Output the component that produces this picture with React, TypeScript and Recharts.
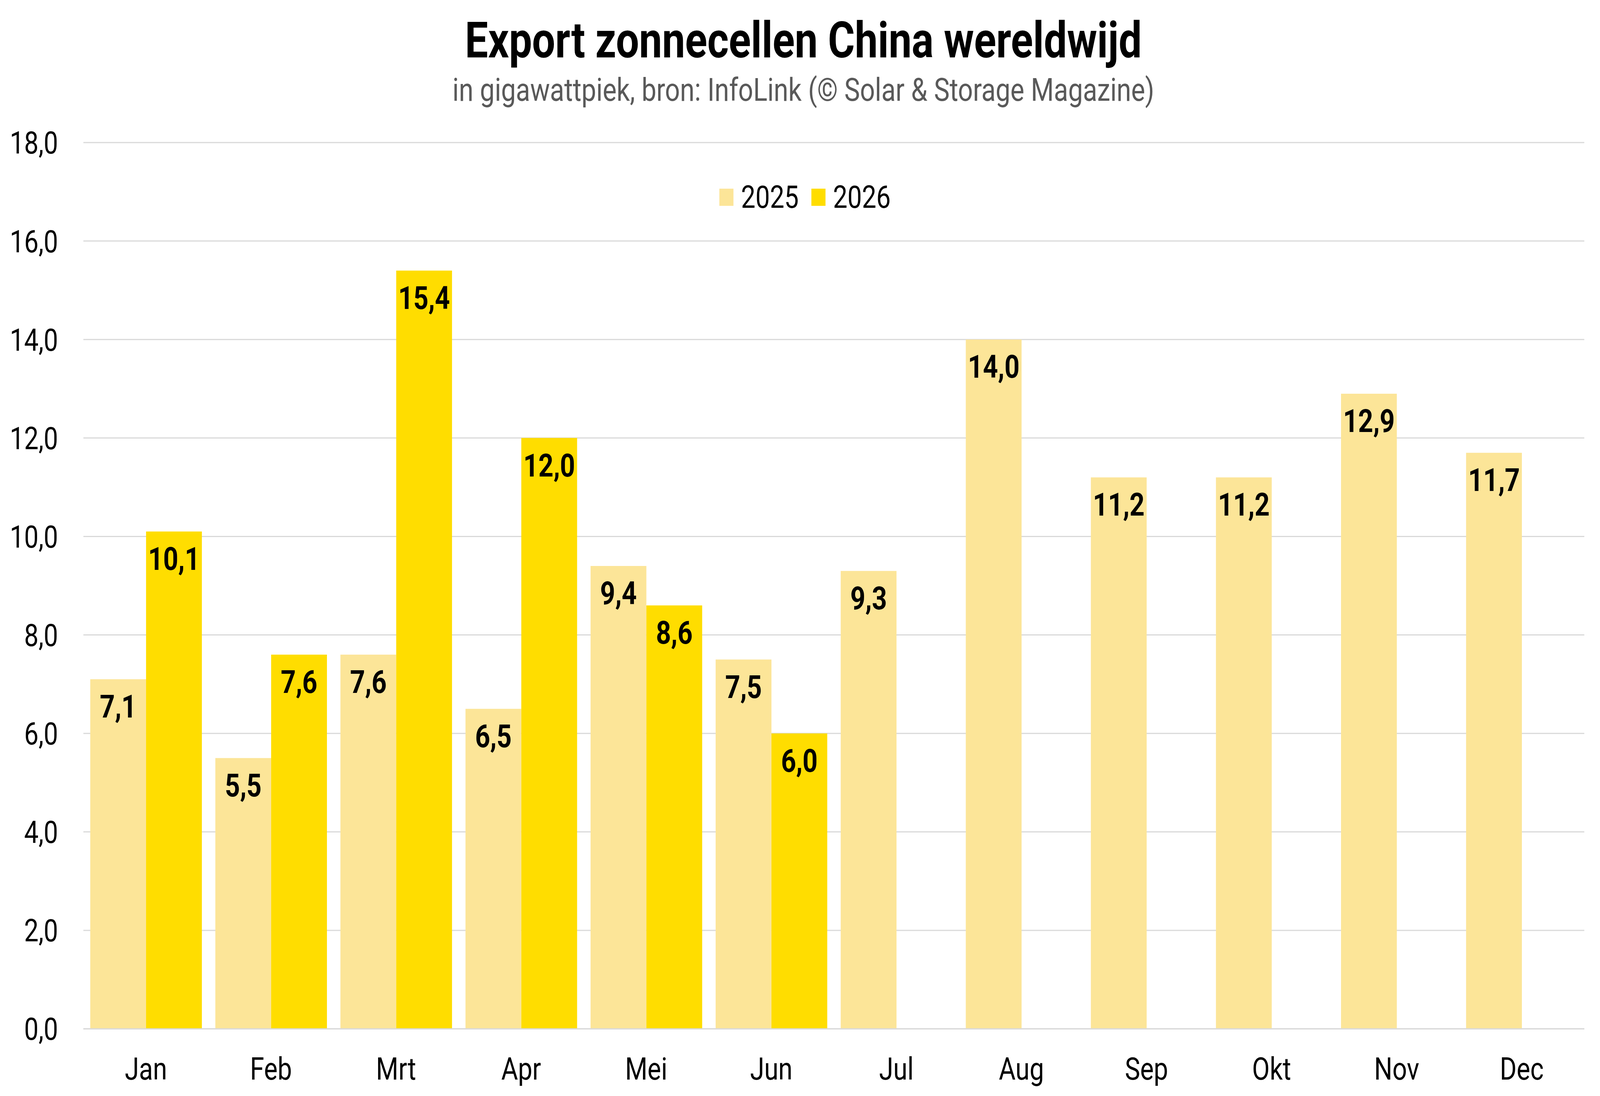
import React from 'react';
import { BarChart, Bar, XAxis, YAxis, CartesianGrid, LabelList } from 'recharts';

const months = ['Jan', 'Feb', 'Mrt', 'Apr', 'Mei', 'Jun', 'Jul', 'Aug', 'Sep', 'Okt', 'Nov', 'Dec'];
const values2025 = [7.1, 5.5, 7.6, 6.5, 9.4, 7.5, 9.3, 14.0, 11.2, 11.2, 12.9, 11.7];
const values2026: (number | null)[] = [10.1, 7.6, 15.4, 12.0, 8.6, 6.0, null, null, null, null, null, null];
const yTicks = [0, 2, 4, 6, 8, 10, 12, 14, 16, 18];
const seriesNames = ['2025', '2026'];

const COLOR_2025 = '#FCE598';
const COLOR_2026 = '#FFDD00';
const FONT = 'Roboto, sans-serif';
const W = 4989;
const H = 2806;

const data = months.map((m, i) => ({ month: m, y2025: values2025[i], y2026: values2026[i] }));

const fmt = (v: any) => (v === null || v === undefined ? '' : Number(v).toFixed(1).replace('.', ','));

const labelStyle = { fontSize: 82, fontWeight: 700, fill: '#000', fontFamily: FONT };

function LegendBox() {
  const colors = [COLOR_2025, COLOR_2026];
  return (
    <div style={{ position: 'absolute', top: 465, left: 0, width: W, display: 'flex', justifyContent: 'center', alignItems: 'center', paddingLeft: 31, boxSizing: 'border-box', fontSize: 80, lineHeight: '80px', color: '#000' }}>
      {seriesNames.map((name, i) => (
        <div key={name} style={{ display: 'flex', alignItems: 'center', marginLeft: i === 0 ? 0 : 39 }}>
          <div style={{ width: 44, height: 44, background: colors[i], marginRight: 24 }} />
          <span>{name}</span>
        </div>
      ))}
    </div>
  );
}

export default function App() {
  // the browser window can be smaller than 4989x2806, so the design is fitted into it
  const vw = typeof window !== 'undefined' ? window.innerWidth : W;
  const vh = typeof window !== 'undefined' ? window.innerHeight : H;
  const sx = vw / W;
  const sy = vh / H;
  return (
    <div style={{ position: 'absolute', left: 0, top: 0, width: W * sx, height: H * sy, overflow: 'hidden' }}>
      <style>{'html,body{margin:0;overflow:hidden;}'}</style>
      <div style={{ position: 'absolute', left: 0, top: 0, width: W, height: H, background: '#fff', fontFamily: FONT, transform: `scale(${sx}, ${sy})`, transformOrigin: '0 0' }}>
        <div style={{ position: 'absolute', top: 39, left: 0, width: W, paddingLeft: 21, boxSizing: 'border-box', textAlign: 'center', fontSize: 128, lineHeight: 1, fontWeight: 700, color: '#000' }}>
          Export zonnecellen China wereldwijd
        </div>
        <div style={{ position: 'absolute', top: 189, left: 0, width: W, paddingLeft: 21, boxSizing: 'border-box', textAlign: 'center', fontSize: 82, lineHeight: 1, color: '#595959' }}>
          in gigawattpiek, bron: InfoLink (© Solar &amp; Storage Magazine)
        </div>
        <BarChart
          width={W}
          height={H}
          data={data}
          margin={{ top: 365, right: 49, bottom: 42, left: 0 }}
          barCategoryGap="5.5%"
          barGap={0}
        >
          <CartesianGrid vertical={false} stroke="#d9d9d9" strokeWidth={3} />
          <XAxis
            dataKey="month"
            height={130}
            tickLine={false}
            axisLine={{ stroke: '#d9d9d9', strokeWidth: 3 }}
            tickMargin={67}
            tick={{ fontSize: 80, fill: '#000', fontFamily: FONT }}
          />
          <YAxis
            width={260}
            domain={[0, 18]}
            ticks={yTicks}
            tickFormatter={fmt}
            tickLine={false}
            axisLine={false}
            tickMargin={73}
            tick={{ fontSize: 80, fill: '#000', fontFamily: FONT }}
          />
          <Bar dataKey="y2025" name="2025" fill={COLOR_2025} isAnimationActive={false}>
            <LabelList dataKey="y2025" position="insideTop" offset={40} formatter={fmt} style={labelStyle} />
          </Bar>
          <Bar dataKey="y2026" name="2026" fill={COLOR_2026} isAnimationActive={false}>
            <LabelList dataKey="y2026" position="insideTop" offset={40} formatter={fmt} style={labelStyle} />
          </Bar>
        </BarChart>
        <LegendBox />
      </div>
    </div>
  );
}
